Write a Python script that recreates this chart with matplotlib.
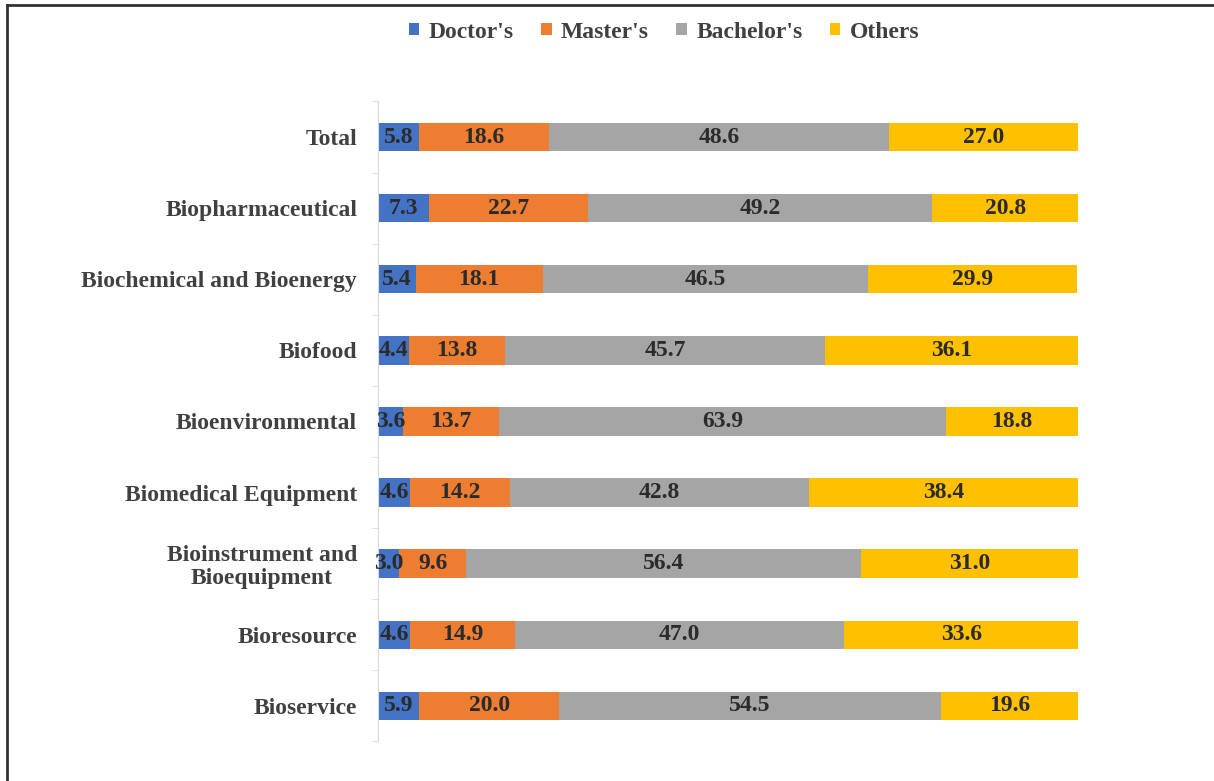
import matplotlib
matplotlib.use("Agg")
import matplotlib.pyplot as plt
import numpy as np

categories = ["Total", "Biopharmaceutical", "Biochemical and Bioenergy", "Biofood",
              "Bioenvironmental", "Biomedical Equipment",
              "Bioinstrument and\nBioequipment", "Bioresource", "Bioservice"]
series_names = ["Doctor's", "Master's", "Bachelor's", "Others"]
doctors = [5.8, 7.3, 5.4, 4.4, 3.6, 4.6, 3.0, 4.6, 5.9]
masters = [18.6, 22.7, 18.1, 13.8, 13.7, 14.2, 9.6, 14.9, 20.0]
bachelors = [48.6, 49.2, 46.5, 45.7, 63.9, 42.8, 56.4, 47.0, 54.5]
others = [27.0, 20.8, 29.9, 36.1, 18.8, 38.4, 31.0, 33.6, 19.6]

colors = ["#4472C4", "#ED7D31", "#A5A5A5", "#FFC000"]
FONT = "Liberation Serif"
FS = 17

fig = plt.figure(figsize=(12.14, 7.81), dpi=100)
ax = fig.add_axes([0.3114, 0.0506, 0.5766, 0.8195])

y = np.arange(len(categories))
left = np.zeros(len(categories))
handles = []
for name, vals, c in zip(series_names, [doctors, masters, bachelors, others], colors):
    vals = np.array(vals)
    bars = ax.barh(y, vals, left=left, height=0.4, color=c, label=name)
    handles.append(bars)
    for yi, l, v in zip(y, left, vals):
        ax.text(l + v / 2, yi, f"{v:.1f}", ha="center", va="center",
                fontsize=FS, fontweight="bold", family=FONT, color="#2b2b2b")
    left = left + vals

ax.set_xlim(0, 100)
ax.set_ylim(len(categories) - 0.5, -0.5)
ax.set_yticks(y)
ax.set_yticklabels(categories, fontsize=FS, fontweight="bold", family=FONT,
                   color="#404040", linespacing=1.1)
for lab in ax.get_yticklabels():
    lab.set_horizontalalignment("right")
    lab.set_multialignment("center")
ax.tick_params(axis="y", length=0, pad=15)
ax.set_yticks(np.arange(len(categories) + 1) - 0.5, minor=True)
ax.tick_params(axis="y", which="minor", length=4, color="#D9D9D9")
ax.set_xticks([])
for s in ["top", "right", "bottom"]:
    ax.spines[s].set_visible(False)
ax.spines["left"].set_color("#D9D9D9")
ax.spines["left"].set_linewidth(0.8)

leg = fig.legend(handles=handles, labels=series_names, loc="center",
                 bbox_to_anchor=(0.547, 0.959), ncol=4, frameon=False,
                 prop={"family": FONT, "weight": "bold", "size": FS},
                 handlelength=0.45, handleheight=0.45, handletextpad=0.4,
                 columnspacing=1.15)
for t in leg.get_texts():
    t.set_color("#404040")

# outer border lines (top and left)
fig.add_artist(plt.Line2D([0.0058, 0.0058], [0, 0.9936], transform=fig.transFigure,
                          color="#333333", linewidth=2))
fig.add_artist(plt.Line2D([0.0058, 1.0], [0.9936, 0.9936], transform=fig.transFigure,
                          color="#333333", linewidth=2))

fig.savefig("out.png", dpi=100)
